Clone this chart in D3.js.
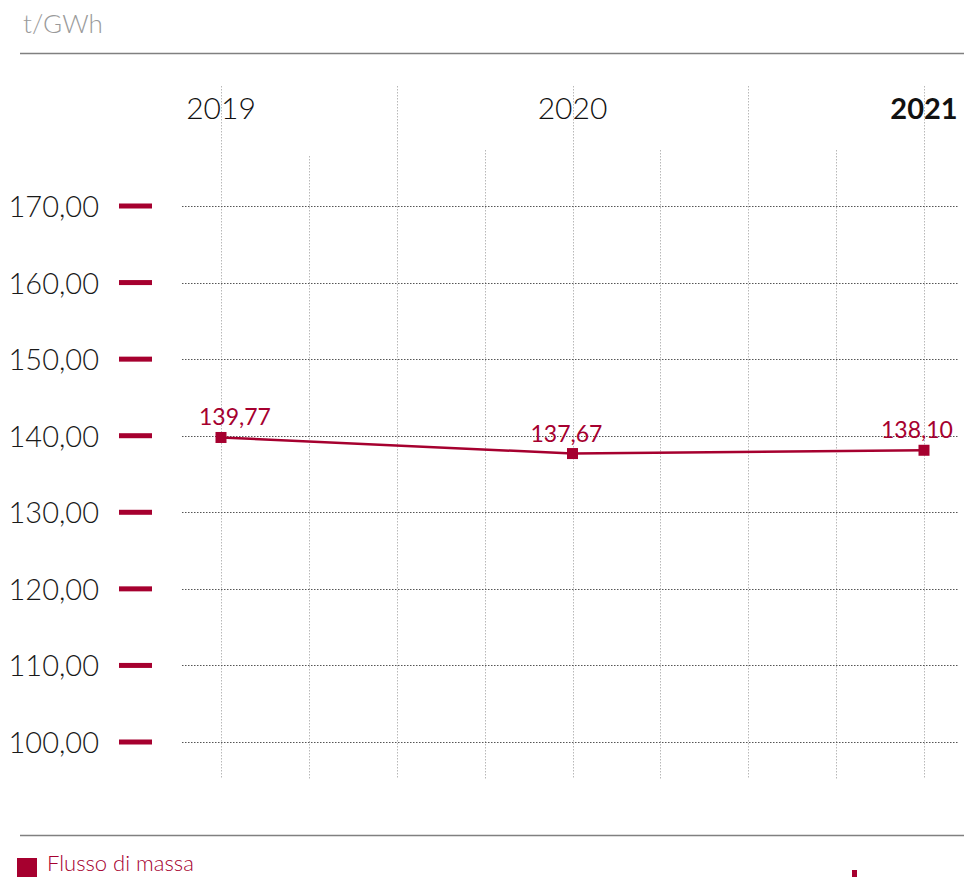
<!DOCTYPE html>
<html><head><meta charset="utf-8">
<script src="https://cdn.jsdelivr.net/npm/d3@7"></script>
<style>
body{margin:0;background:#fff;}
svg{display:block;}
text{font-family:Lato,"Noto Sans",sans-serif;}
</style></head>
<body>
<script>
const years = [2019, 2020, 2021];
const seriesName = "Flusso di massa";
const values = [139.77, 137.67, 138.10];
const valueLabels = ["139,77", "137,67", "138,10"];
const yTicks = [100, 110, 120, 130, 140, 150, 160, 170];
const unitLabel = "t/GWh";

const W = 974, H = 877;
const red = "#a6002f";
const svg = d3.select("body").append("svg").attr("width", W).attr("height", H);

const x = d3.scaleLinear().domain([2019, 2021]).range([221, 924]);
const y = d3.scaleLinear().domain([100, 170]).range([742, 206]);

// header
svg.append("text").attr("x", 23).attr("y", 33).attr("font-size", 26).attr("font-weight", 300)
  .attr("fill", "#9a9a9a").text(unitLabel);
svg.append("line").attr("x1", 20).attr("x2", 964).attr("y1", 53.5).attr("y2", 53.5)
  .attr("stroke", "#808080").attr("stroke-width", 1.5);

// vertical grid
const vTicks = d3.range(0, 9).map(i => 2019 + i * 0.25);
svg.append("g").selectAll("line").data(vTicks).join("line")
  .attr("x1", d => Math.round(x(d)) + 0.5).attr("x2", d => Math.round(x(d)) + 0.5)
  .attr("y1", (d, i) => i % 2 === 0 ? 86 : (i === 1 ? 156 : 150)).attr("y2", 779)
  .attr("stroke", "#b8b8b8").attr("stroke-width", 1).attr("stroke-dasharray", "1.5,1.5");

// horizontal grid
svg.append("g").selectAll("line").data(yTicks).join("line")
  .attr("x1", 182).attr("x2", 958)
  .attr("y1", d => Math.round(y(d)) + 0.5).attr("y2", d => Math.round(y(d)) + 0.5)
  .attr("stroke", "#555").attr("stroke-width", 1).attr("stroke-dasharray", "1.5,1.5");

// y axis ticks and labels
const yAxis = svg.append("g");
yAxis.selectAll("rect").data(yTicks).join("rect")
  .attr("x", 119).attr("width", 33).attr("y", d => y(d) - 2.5).attr("height", 5)
  .attr("fill", red);
yAxis.selectAll("text").data(yTicks).join("text")
  .attr("x", 99).attr("y", d => y(d) + 11).attr("text-anchor", "end")
  .attr("font-size", 29).attr("font-weight", 300).attr("fill", "#1a1a1a")
  .text(d => d3.format(".2f")(d).replace(".", ","));

// year labels
svg.append("g").selectAll("text").data(years).join("text")
  .attr("x", d => x(d)).attr("y", 119).attr("text-anchor", "middle")
  .attr("font-size", (d, i) => i === years.length - 1 ? 29 : 30)
  .attr("font-weight", (d, i) => i === years.length - 1 ? 700 : 300)
  .attr("fill", "#111").text(d => d);

// line
const pts = years.map((d, i) => [x(d), y(values[i])]);
svg.append("path").attr("d", d3.line()(pts)).attr("fill", "none")
  .attr("stroke", red).attr("stroke-width", 2.5);
svg.append("g").selectAll("rect").data(pts).join("rect")
  .attr("x", d => d[0] - 5.5).attr("y", d => d[1] - 5.5).attr("width", 11).attr("height", 11)
  .attr("fill", red);
const labelDx = [14, -6, -7];
svg.append("g").selectAll("text").data(pts).join("text")
  .attr("x", (d, i) => d[0] + labelDx[i]).attr("y", d => d[1] - 12).attr("text-anchor", "middle")
  .attr("font-size", 23).attr("font-weight", 400).attr("fill", red)
  .text((d, i) => valueLabels[i]);

// footer
svg.append("line").attr("x1", 20).attr("x2", 964).attr("y1", 835.5).attr("y2", 835.5)
  .attr("stroke", "#808080").attr("stroke-width", 1.5);
svg.append("rect").attr("x", 17).attr("y", 858).attr("width", 20).attr("height", 20).attr("fill", red);
svg.append("text").attr("x", 47).attr("y", 871).attr("font-size", 22).attr("font-weight", 300)
  .attr("fill", red).text(seriesName);
svg.append("rect").attr("x", 852).attr("y", 870).attr("width", 5).attr("height", 8).attr("fill", red);
</script>
</body></html>
